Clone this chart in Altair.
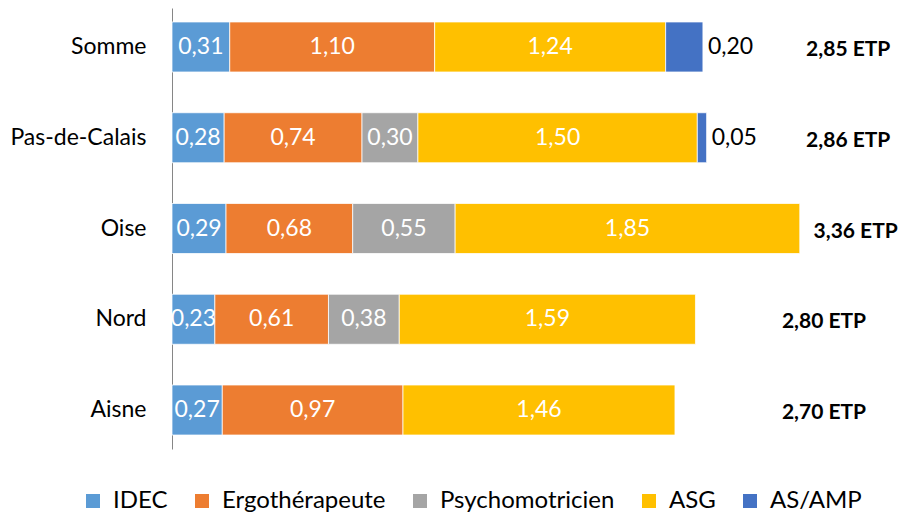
import altair as alt
import pandas as pd

categories = ["Somme", "Pas-de-Calais", "Oise", "Nord", "Aisne"]
series = ["IDEC", "Ergothérapeute", "Psychomotricien", "ASG", "AS/AMP"]
colors = ["#5B9BD5", "#ED7D31", "#A5A5A5", "#FFC000", "#4472C4"]

idec = [0.31, 0.28, 0.29, 0.23, 0.27]
ergo = [1.10, 0.74, 0.68, 0.61, 0.97]
psycho = [0.00, 0.30, 0.55, 0.38, 0.00]
asg = [1.24, 1.50, 1.85, 1.59, 1.46]
asamp = [0.20, 0.05, 0.00, 0.00, 0.00]

total_labels = ["2,85 ETP", "2,86 ETP", "3,36 ETP", "2,80 ETP", "2,70 ETP"]
total_label_pos = [3.63, 3.63, 3.67, 3.50, 3.50]

FONT = "Lato"
X_MAX = 3.908

rows = []
for i, cat in enumerate(categories):
    vals = [idec[i], ergo[i], psycho[i], asg[i], asamp[i]]
    start = 0.0
    for s, v in zip(series, vals):
        end = start + v
        rows.append({
            "cat": cat, "series": s, "value": v, "start": start, "end": end,
            "mid": (start + end) / 2,
            "label": f"{v:.2f}".replace(".", ","),
            "inside": s != "AS/AMP",
        })
        start = end
df = pd.DataFrame(rows)
df = df[df["value"] > 0]

tot = pd.DataFrame({"cat": categories, "label": total_labels, "pos": total_label_pos})

yenc = alt.Y(
    "cat:N", sort=categories, title=None,
    scale=alt.Scale(paddingInner=0.449, paddingOuter=0.154),
    axis=alt.Axis(
        ticks=False, grid=False, domain=True, domainColor="#868686", domainWidth=1,
        labelFont=FONT, labelFontSize=23, labelColor="#000000", labelPadding=26,
        labelLimit=300,
    ),
)
xscale = alt.Scale(domain=[0, X_MAX], nice=False, zero=True)

bars = alt.Chart(df).mark_bar(stroke="white", strokeWidth=0.75).encode(
    y=yenc,
    x=alt.X("start:Q", scale=xscale, axis=None),
    x2="end:Q",
    color=alt.Color(
        "series:N",
        scale=alt.Scale(domain=series, range=colors),
        legend=alt.Legend(
            title=None, orient="none", direction="horizontal",
            legendX=-91, legendY=481, padding=0,
            symbolType="square", symbolSize=196, symbolStrokeWidth=0,
            labelFont=FONT, labelFontSize=24, labelColor="#000000",
            labelOffset=8, columnPadding=22, labelLimit=400,
        ),
    ),
)

inside = alt.Chart(df[df["inside"]]).mark_text(
    font=FONT, fontSize=23, color="white", baseline="middle", align="center"
).encode(
    y=alt.Y("cat:N", sort=categories),
    x=alt.X("mid:Q", scale=xscale),
    text="label:N",
)

outside = alt.Chart(df[~df["inside"]]).mark_text(
    font=FONT, fontSize=23, color="#000000", baseline="middle", align="left", dx=5
).encode(
    y=alt.Y("cat:N", sort=categories),
    x=alt.X("end:Q", scale=xscale),
    text="label:N",
)

totals = alt.Chart(tot).mark_text(
    font=FONT, fontSize=21, fontWeight="bold", color="#000000",
    baseline="middle", align="center", dy=3
).encode(
    y=alt.Y("cat:N", sort=categories),
    x=alt.X("pos:Q", scale=xscale),
    text="label:N",
)

chart = alt.layer(bars, inside, outside, totals).properties(
    width=728, height=441,
    autosize=alt.AutoSizeParams(type="none"),
    padding={"left": 164, "top": 0, "right": 0, "bottom": 63},
).configure_view(stroke=None)

chart.save("out.html", embed_options={"renderer": "svg", "actions": False})
